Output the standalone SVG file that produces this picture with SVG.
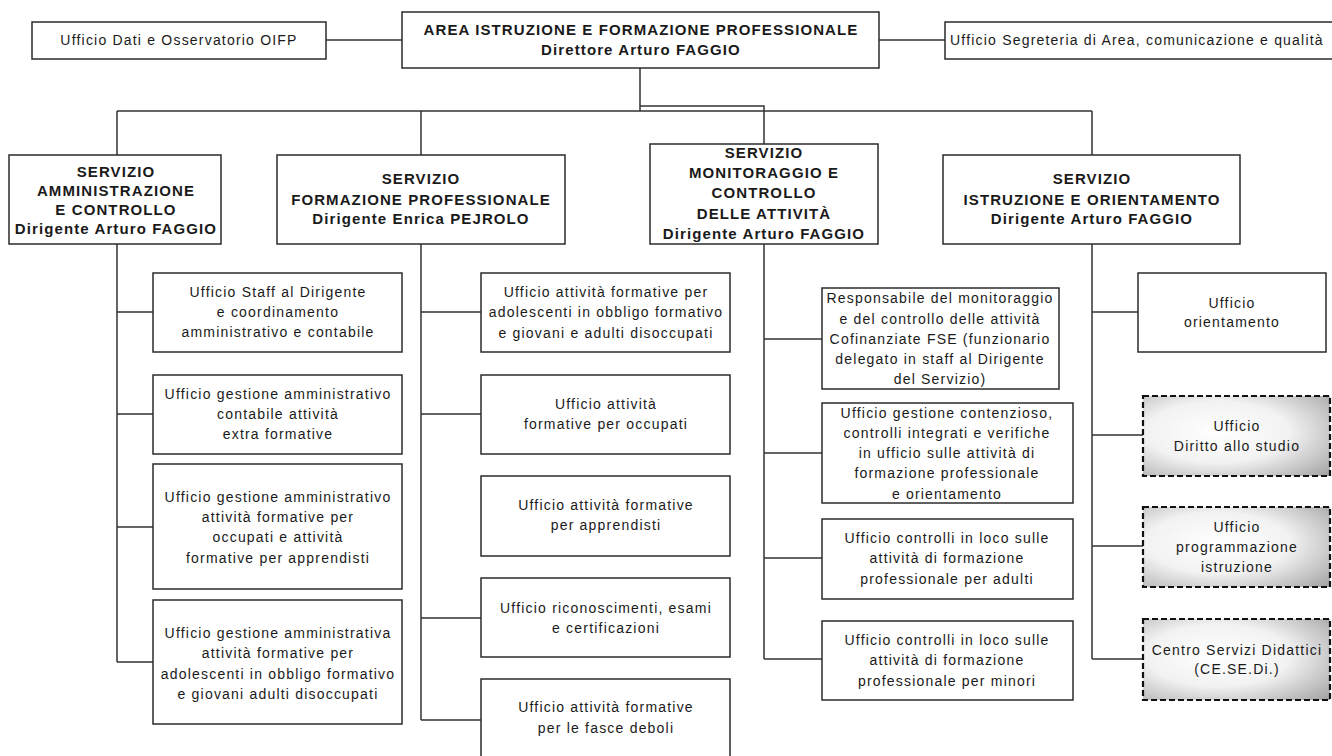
<svg xmlns="http://www.w3.org/2000/svg" width="1332" height="756" viewBox="0 0 1332 756">
<defs>
<radialGradient id="gr" cx="0.4" cy="0.45" r="0.85">
<stop offset="0" stop-color="#ffffff"/>
<stop offset="0.45" stop-color="#f2f2f2"/>
<stop offset="1" stop-color="#9a9a9a"/>
</radialGradient>
<style>
.box{fill:#ffffff;stroke:#2b2b2b;stroke-width:1.5}
.dbox{fill:url(#gr);stroke:#111;stroke-width:2.2;stroke-dasharray:6 3}
.ln{fill:none;stroke:#333;stroke-width:1.5}
text{font-family:"Liberation Sans",Arial,sans-serif;fill:#1a1a1a;text-anchor:middle}
.b{font-size:15px;font-weight:bold;letter-spacing:1.1px}
.r{font-size:14px;letter-spacing:1.2px}
.l{text-anchor:start}
</style>
</defs>
<rect width="1332" height="756" fill="#ffffff"/>
<g id="connectors">
<path class="ln" d="M326,40 H402 M879,40 H945"/>
<path class="ln" d="M640,68 V111 M640,106 H764 V144 M117,111 H1092 M117,111 V155 M421,111 V155 M1092,111 V155"/>
<path class="ln" d="M117,244 V662 M117,312 H153 M117,414 H153 M117,527 H153 M117,662 H153"/>
<path class="ln" d="M421,244 V720 M421,312 H481 M421,414 H481 M421,618 H481 M421,720 H481"/>
<path class="ln" d="M764,244 V659 M764,339 H822 M764,453 H822 M764,558 H822 M764,659 H822"/>
<path class="ln" d="M1092,244 V659 M1092,312 H1138 M1092,435 H1143 M1092,546 H1143 M1092,659 H1143"/>
</g>
<g id="area">
<rect class="box" x="402" y="12" width="477" height="56"/>
<text class="b" x="641" y="35">AREA ISTRUZIONE E FORMAZIONE PROFESSIONALE</text>
<text class="b" x="641" y="55">Direttore Arturo FAGGIO</text>
</g>
<g id="dati">
<rect class="box" x="32" y="22" width="294" height="37"/>
<text class="r" x="179" y="45">Ufficio Dati e Osservatorio OIFP</text>
</g>
<g id="segreteria">
<rect class="box" x="945" y="22" width="400" height="37"/>
<text class="r l" x="950" y="45">Ufficio Segreteria di Area, comunicazione e qualità</text>
</g>
<g id="serv-amm">
<rect class="box" x="9" y="155" width="212" height="89"/>
<text class="b" x="116" y="177">SERVIZIO</text>
<text class="b" x="116" y="196">AMMINISTRAZIONE</text>
<text class="b" x="116" y="215">E CONTROLLO</text>
<text class="b" x="116" y="234">Dirigente Arturo FAGGIO</text>
</g>
<g id="serv-form">
<rect class="box" x="277" y="155" width="288" height="89"/>
<text class="b" x="421" y="184">SERVIZIO</text>
<text class="b" x="421" y="205">FORMAZIONE PROFESSIONALE</text>
<text class="b" x="421" y="224">Dirigente Enrica PEJROLO</text>
</g>
<g id="serv-mon">
<rect class="box" x="650" y="144" width="228" height="100"/>
<text class="b" x="764" y="158">SERVIZIO</text>
<text class="b" x="764" y="178">MONITORAGGIO E</text>
<text class="b" x="764" y="198">CONTROLLO</text>
<text class="b" x="764" y="219">DELLE ATTIVITÀ</text>
<text class="b" x="764" y="239">Dirigente Arturo FAGGIO</text>
</g>
<g id="serv-istr">
<rect class="box" x="943" y="155" width="297" height="89"/>
<text class="b" x="1092" y="184">SERVIZIO</text>
<text class="b" x="1092" y="205">ISTRUZIONE E ORIENTAMENTO</text>
<text class="b" x="1092" y="224">Dirigente Arturo FAGGIO</text>
</g>
<g id="a1">
<rect class="box" x="153" y="273" width="249" height="79"/>
<text class="r" x="278" y="297">Ufficio Staff al Dirigente</text>
<text class="r" x="278" y="317">e coordinamento</text>
<text class="r" x="278" y="337">amministrativo e contabile</text>
</g>
<g id="a2">
<rect class="box" x="153" y="375" width="249" height="79"/>
<text class="r" x="278" y="399">Ufficio gestione amministrativo</text>
<text class="r" x="278" y="419">contabile attività</text>
<text class="r" x="278" y="439">extra formative</text>
</g>
<g id="a3">
<rect class="box" x="153" y="464" width="249" height="125"/>
<text class="r" x="278" y="502">Ufficio gestione amministrativo</text>
<text class="r" x="278" y="522">attività formative per</text>
<text class="r" x="278" y="542">occupati e attività</text>
<text class="r" x="278" y="563">formative per apprendisti</text>
</g>
<g id="a4">
<rect class="box" x="153" y="600" width="249" height="124"/>
<text class="r" x="278" y="638">Ufficio gestione amministrativa</text>
<text class="r" x="278" y="658">attività formative per</text>
<text class="r" x="278" y="679">adolescenti in obbligo formativo</text>
<text class="r" x="278" y="699">e giovani adulti disoccupati</text>
</g>
<g id="b1">
<rect class="box" x="481" y="273" width="249" height="79"/>
<text class="r" x="606" y="297">Ufficio attività formative per</text>
<text class="r" x="606" y="317">adolescenti in obbligo formativo</text>
<text class="r" x="606" y="338">e giovani e adulti disoccupati</text>
</g>
<g id="b2">
<rect class="box" x="481" y="375" width="249" height="79"/>
<text class="r" x="606" y="409">Ufficio attività</text>
<text class="r" x="606" y="429">formative per occupati</text>
</g>
<g id="b3">
<rect class="box" x="481" y="476" width="249" height="80"/>
<text class="r" x="606" y="510">Ufficio attività formative</text>
<text class="r" x="606" y="530">per apprendisti</text>
</g>
<g id="b4">
<rect class="box" x="481" y="578" width="249" height="79"/>
<text class="r" x="606" y="613">Ufficio riconoscimenti, esami</text>
<text class="r" x="606" y="633">e certificazioni</text>
</g>
<g id="b5">
<rect class="box" x="481" y="679" width="249" height="90"/>
<text class="r" x="606" y="712">Ufficio attività formative</text>
<text class="r" x="606" y="733">per le fasce deboli</text>
</g>
<g id="c1">
<rect class="box" x="822" y="288" width="237" height="101"/>
<text class="r" x="940" y="303">Responsabile del monitoraggio</text>
<text class="r" x="940" y="324">e del controllo delle attività</text>
<text class="r" x="940" y="344">Cofinanziate FSE (funzionario</text>
<text class="r" x="940" y="364">delegato in staff al Dirigente</text>
<text class="r" x="940" y="384">del Servizio)</text>
</g>
<g id="c2">
<rect class="box" x="822" y="403" width="251" height="100"/>
<text class="r" x="947" y="418">Ufficio gestione contenzioso,</text>
<text class="r" x="947" y="438">controlli integrati e verifiche</text>
<text class="r" x="947" y="458">in ufficio sulle attività di</text>
<text class="r" x="947" y="478">formazione professionale</text>
<text class="r" x="947" y="499">e orientamento</text>
</g>
<g id="c3">
<rect class="box" x="822" y="519" width="251" height="80"/>
<text class="r" x="947" y="543">Ufficio controlli in loco sulle</text>
<text class="r" x="947" y="563">attività di formazione</text>
<text class="r" x="947" y="584">professionale per adulti</text>
</g>
<g id="c4">
<rect class="box" x="822" y="621" width="251" height="79"/>
<text class="r" x="947" y="645">Ufficio controlli in loco sulle</text>
<text class="r" x="947" y="665">attività di formazione</text>
<text class="r" x="947" y="686">professionale per minori</text>
</g>
<g id="d1">
<rect class="box" x="1138" y="273" width="188" height="79"/>
<text class="r" x="1232" y="308">Ufficio</text>
<text class="r" x="1232" y="327">orientamento</text>
</g>
<g id="d2">
<rect class="dbox" x="1143" y="396" width="187" height="80"/>
<text class="r" x="1237" y="431">Ufficio</text>
<text class="r" x="1237" y="451">Diritto allo studio</text>
</g>
<g id="d3">
<rect class="dbox" x="1143" y="507" width="187" height="80"/>
<text class="r" x="1237" y="532">Ufficio</text>
<text class="r" x="1237" y="552">programmazione</text>
<text class="r" x="1237" y="572">istruzione</text>
</g>
<g id="d4">
<rect class="dbox" x="1143" y="619" width="187" height="81"/>
<text class="r" x="1237" y="655">Centro Servizi Didattici</text>
<text class="r" x="1237" y="674">(CE.SE.Di.)</text>
</g>
</svg>
